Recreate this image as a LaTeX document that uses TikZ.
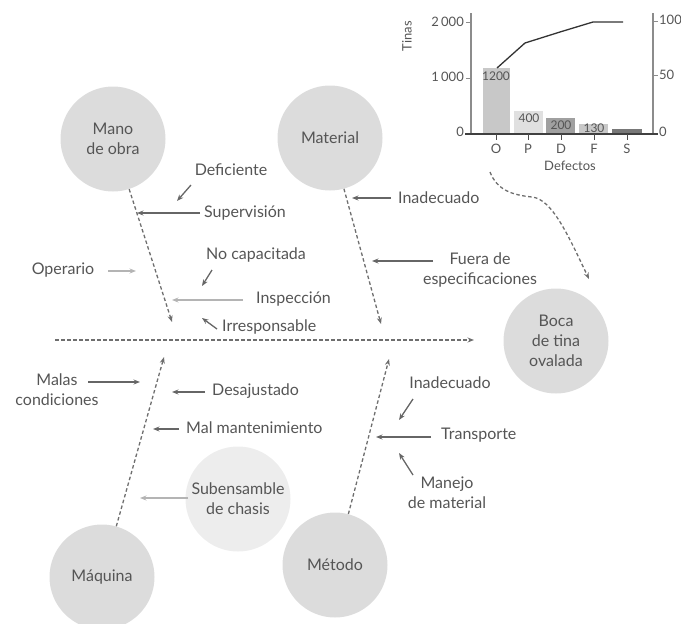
\documentclass[tikz,border=0pt]{standalone}
\usepackage{fontspec}
\setmainfont{Lato}
\usetikzlibrary{arrows.meta}
\definecolor{txt}{HTML}{555555}
\definecolor{circfill}{HTML}{DCDCDC}
\definecolor{circlight}{HTML}{EDEDED}
\definecolor{dashgray}{HTML}{6E6E6E}
\definecolor{arrgray}{HTML}{666666}
\definecolor{arrlight}{HTML}{B4B4B4}
\definecolor{axisgray}{HTML}{8C8C8C}
\definecolor{barmid}{HTML}{C8C8C8}
\definecolor{barlight}{HTML}{E0E0E0}
\definecolor{bardark}{HTML}{A0A0A0}
\definecolor{bardarker}{HTML}{787878}
\begin{document}
\begin{tikzpicture}[x=1pt,y=-1pt,
  cause/.style={circle, fill=circfill, minimum size=105pt, inner sep=0pt,
    align=center, text=txt, font=\fontsize{16}{20}\selectfont},
  lbl/.style={text=txt, inner sep=0pt, align=center,
    font=\fontsize{16}{20}\selectfont},
  chartlbl/.style={text=txt, inner sep=0pt, font=\fontsize{13}{15}\selectfont},
  barlbl/.style={text=txt, inner sep=0pt, font=\fontsize{12}{14}\selectfont},
  bone/.style={draw=dashgray, line width=1.3pt, dash pattern=on 3.5pt off 2.5pt,
    -{Stealth[length=6.5pt,width=5pt]}},
  sub/.style={draw=arrgray, line width=1.3pt, -{Stealth[length=6.5pt,width=5pt]}},
  sublight/.style={draw=arrlight, line width=1.1pt, -{Stealth[length=6.5pt,width=5pt]}}
]
\useasboundingbox (0,0) rectangle (681,624);

% cause circles and effect
\node[cause] (mano) at (113,139) {Mano\\de obra};
\node[cause] (material) at (330,138) {Material};
\node[cause] (efecto) at (556,341) {Boca\\de tina\\ovalada};
\node[cause] (maquina) at (102,577) {Máquina};
\node[cause, fill=circlight] (subens) at (238,499) {Subensamble\\de chasis};
\node[cause] (metodo) at (335,565) {Método};

% spine and main bones
\coordinate (spineA) at (55,340);
\coordinate (spineB) at (474,340);
\draw[bone] (spineA) -- (spineB);

\coordinate (manoTip) at (172,322);
\coordinate (materialTip) at (381,324);
\coordinate (maquinaTip) at (164,357);
\coordinate (metodoTip) at (389,359);
\draw[bone] (mano) -- (manoTip);
\draw[bone] (material) -- (materialTip);
\draw[bone] (maquina) -- (maquinaTip);
\draw[bone] (metodo) -- (metodoTip);

% Mano de obra causes
\node[lbl] (deficiente) at (231,170) {Deficiente};
\coordinate (defA) at (191,185); \coordinate (defB) at (177,201);
\draw[sub] (defA) -- (defB);

\node[lbl, anchor=west] (supervision) at (204,213) {Supervisión};
\coordinate (supA) at (200,213); \coordinate (supB) at (137,213);
\draw[sub] (supA) -- (supB);

\node[lbl] (nocap) at (256,255) {No capacitada};
\coordinate (nocA) at (212,270); \coordinate (nocB) at (202,286);
\draw[sub] (nocA) -- (nocB);

\node[lbl] (operario) at (63,270) {Operario};
\coordinate (opeA) at (108,271); \coordinate (opeB) at (136,271);
\draw[sublight] (opeA) -- (opeB);

\node[lbl, anchor=east] (inspeccion) at (331,299) {Inspección};
\coordinate (insA) at (243,300); \coordinate (insB) at (172,300);
\draw[sublight] (insA) -- (insB);

\node[lbl, anchor=west] (irresp) at (222,327) {Irresponsable};
\coordinate (irrA) at (217,329); \coordinate (irrB) at (202,318);
\draw[sub] (irrA) -- (irrB);

% Material causes
\node[lbl, anchor=west] (inadecMat) at (398,198) {Inadecuado};
\coordinate (inmA) at (391,198); \coordinate (inmB) at (352,198);
\draw[sub] (inmA) -- (inmB);

\node[lbl] (fuera) at (480,270) {Fuera de\\especificaciones};
\coordinate (fueA) at (433,261); \coordinate (fueB) at (372,261);
\draw[sub] (fueA) -- (fueB);

% Máquina causes
\node[lbl] (malas) at (57,390) {Malas\\condiciones};
\coordinate (malA) at (88,382); \coordinate (malB) at (140,382);
\draw[sub] (malA) -- (malB);

\node[lbl, anchor=west] (desaj) at (212,391) {Desajustado};
\coordinate (desA) at (205,392); \coordinate (desB) at (172,392);
\draw[sub] (desA) -- (desB);

\node[lbl, anchor=west] (malmant) at (186,428) {Mal mantenimiento};
\coordinate (mmA) at (179,429); \coordinate (mmB) at (153,429);
\draw[sub] (mmA) -- (mmB);

\coordinate (subA) at (188,498); \coordinate (subB) at (140,498);
\draw[sublight] (subA) -- (subB);

% Método causes
\node[lbl] (inadecMet) at (450,383) {Inadecuado};
\coordinate (imA) at (413,399); \coordinate (imB) at (399,420);
\draw[sub] (imA) -- (imB);

\node[lbl, anchor=west] (transp) at (441,435) {Transporte};
\coordinate (trA) at (431,437); \coordinate (trB) at (376,437);
\draw[sub] (trA) -- (trB);

\node[lbl] (manejo) at (447,493) {Manejo\\de material};
\coordinate (mjA) at (413,475); \coordinate (mjB) at (399,453);
\draw[sub] (mjA) -- (mjB);

% Pareto chart: bars
\fill[barmid] (483,68) rectangle (510,133);
\fill[barlight] (514,111) rectangle (543,133);
\fill[bardark] (546,118) rectangle (575,133);
\fill[barmid] (579,124) rectangle (608,133);
\fill[bardarker] (612,129) rectangle (642,133);

% axes and ticks
\draw[axisgray, line width=1.3pt] (471,13) -- (471,134);
\draw[axisgray, line width=1.3pt] (653,13) -- (653,134);
\draw[black!75, line width=1.3pt] (465,134) -- (658,134);
\foreach \yy in {22,78} \draw[axisgray, line width=1pt] (466,\yy) -- (471,\yy);
\foreach \yy in {21,75} \draw[axisgray, line width=1pt] (653,\yy) -- (658,\yy);
\foreach \xx in {496,528,561,594,627} \draw[black!70, line width=1pt] (\xx,134) -- (\xx,140);

\node[chartlbl, anchor=east] at (464,22) {2\,000};
\node[chartlbl, anchor=east] at (464,77) {1\,000};
\node[chartlbl, anchor=east] at (464,132) {0};
\node[chartlbl, anchor=west] at (659,20) {100};
\node[chartlbl, anchor=west] at (659,75) {50};
\node[chartlbl, anchor=west] at (659,132) {0};
\node[chartlbl, rotate=90] at (407,36) {Tinas};
\foreach \xx/\cc in {496/O,528/P,561/D,594/F,627/S}
  \node[chartlbl] at (\xx,149) {\cc};
\node[chartlbl] (defectos) at (570,166) {Defectos};

\node[barlbl] at (496,76) {1200};
\node[barlbl] at (529,118) {400};
\node[barlbl] at (561,125) {200};
\node[barlbl] at (594,128) {130};

% cumulative percentage line
\draw[black!80, line width=1.3pt] (497,68) -- (525,43) -- (560,32) -- (593,22) -- (623,22);

% link from chart to effect
\coordinate (chartOut) at (490,172);
\coordinate (effIn) at (589,279);
\draw[bone] (chartOut) .. controls (497,190) and (512,195) .. (532,197)
  .. controls (552,199) and (568,235) .. (effIn);
\end{tikzpicture}
\end{document}
